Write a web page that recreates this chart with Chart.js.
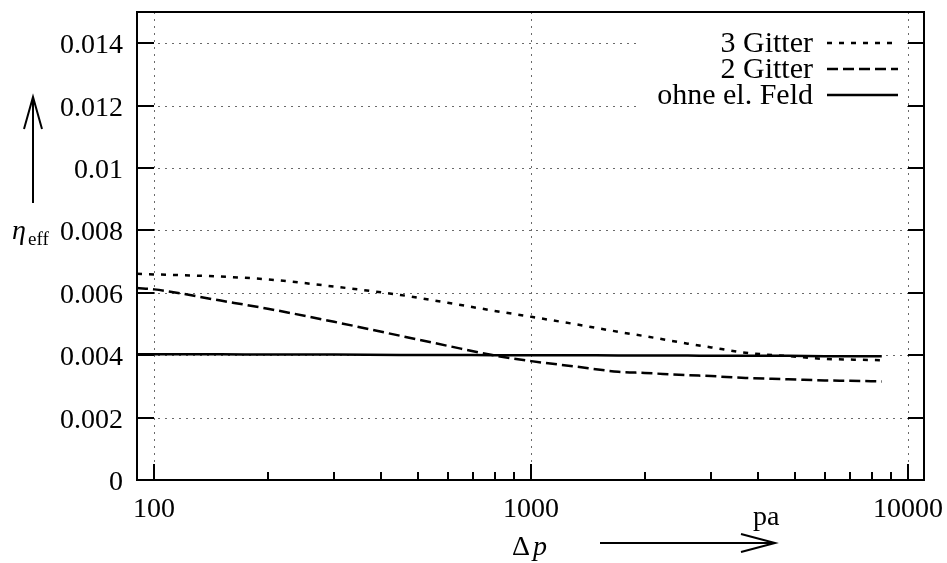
<!DOCTYPE html>
<html>
<head>
<meta charset="utf-8">
<script src="https://cdn.jsdelivr.net/npm/chart.js@4.4.0/dist/chart.umd.min.js"></script>
<style>
  html, body { margin: 0; padding: 0; background: #fff; }
</style>
</head>
<body>
<canvas id="graph" width="947" height="563"></canvas>
<script>
// Données (Δp en pa, η_eff)
const pressure = [90, 100, 150, 200, 300, 450, 600, 800, 1000, 1300, 1700, 2000, 2600, 3000, 3700, 4800, 6000, 7000, 8500];
const gitter3  = [0.00661, 0.00659, 0.00652, 0.00643, 0.00620, 0.00593, 0.00568, 0.00542, 0.00523, 0.00500, 0.00475, 0.00461, 0.00437, 0.00425, 0.00408, 0.00397, 0.00388, 0.00386, 0.00384];
const gitter2  = [0.00615, 0.00611, 0.00575, 0.00549, 0.00507, 0.00462, 0.00430, 0.00399, 0.00381, 0.00364, 0.00347, 0.00343, 0.00336, 0.00333, 0.00327, 0.00323, 0.00319, 0.00318, 0.00316];
const ohneFeld = [0.00403, 0.00403, 0.00403, 0.00402, 0.00402, 0.00401, 0.00401, 0.00400, 0.00400, 0.00400, 0.00399, 0.00399, 0.00399, 0.00398, 0.00398, 0.00398, 0.00397, 0.00397, 0.00397];
const seriesNames = ['3 Gitter', '2 Gitter', 'ohne el. Feld'];

const xTicks = [100, 1000, 10000];
const xTickLabels = ['100', '1000', '10000'];
const xMinorTicks = [200, 300, 400, 500, 600, 700, 800, 900, 2000, 3000, 4000, 5000, 6000, 7000, 8000, 9000];
const yTicks = [0, 0.002, 0.004, 0.006, 0.008, 0.01, 0.012, 0.014];
const yTickLabels = ['0', '0.002', '0.004', '0.006', '0.008', '0.01', '0.012', '0.014'];

const FONT = "'Liberation Serif', 'Times New Roman', serif";

function pts(vals) {
    return pressure.map((p, i) => ({ x: p, y: vals[i] }));
}

// Grille, graduations intérieures, cadre, légende et titres des axes
const decoPlugin = {
    id: 'deco',
    beforeDatasetsDraw(chart) {
        const { ctx, chartArea: a, scales: { x, y } } = chart;
        ctx.save();
        ctx.strokeStyle = '#6a6a6a';
        ctx.lineWidth = 1;
        ctx.setLineDash([2, 5]);
        xTicks.forEach(v => {
            const px = Math.round(x.getPixelForValue(v)) + 0.5;
            ctx.beginPath(); ctx.moveTo(px, a.top); ctx.lineTo(px, a.bottom); ctx.stroke();
        });
        yTicks.slice(1).forEach(v => {
            const py = Math.round(y.getPixelForValue(v)) + 0.5;
            ctx.beginPath(); ctx.moveTo(a.left, py); ctx.lineTo(a.right, py); ctx.stroke();
        });
        ctx.restore();
    },
    afterDatasetsDraw(chart) {
        const { ctx, chartArea: a, scales: { x, y } } = chart;
        ctx.save();
        ctx.strokeStyle = '#000';
        ctx.fillStyle = '#000';
        ctx.lineWidth = 2;
        ctx.setLineDash([]);
        // graduations et étiquettes
        ctx.font = '28px ' + FONT;
        ctx.textAlign = 'right';
        ctx.textBaseline = 'alphabetic';
        yTicks.forEach((v, i) => {
            const py = Math.round(y.getPixelForValue(v));
            ctx.beginPath(); ctx.moveTo(a.left, py); ctx.lineTo(a.left + 17, py); ctx.stroke();
            ctx.beginPath(); ctx.moveTo(a.right, py); ctx.lineTo(a.right - 16, py); ctx.stroke();
            ctx.fillText(yTickLabels[i], 123, py + 10);
        });
        ctx.textAlign = 'center';
        xTicks.forEach((v, i) => {
            const px = Math.round(x.getPixelForValue(v));
            ctx.beginPath(); ctx.moveTo(px, a.bottom); ctx.lineTo(px, a.bottom - 16); ctx.stroke();
            ctx.fillText(xTickLabels[i], px, 517);
        });
        xMinorTicks.forEach(v => {
            const px = Math.round(x.getPixelForValue(v));
            ctx.beginPath(); ctx.moveTo(px, a.bottom); ctx.lineTo(px, a.bottom - 8); ctx.stroke();
        });
        // légende
        ctx.fillStyle = '#fff';
        ctx.fillRect(637, 29, 269, 79);
        ctx.fillStyle = '#000';
        ctx.font = '30px ' + FONT;
        ctx.textAlign = 'right';
        const rows = [43, 69, 95];
        chart.data.datasets.forEach((ds, i) => {
            ctx.fillText(ds.label, 813, rows[i] + 9);
            ctx.lineWidth = ds.borderWidth;
            ctx.setLineDash(ds.borderDash || []);
            ctx.beginPath(); ctx.moveTo(827, rows[i]); ctx.lineTo(898, rows[i]); ctx.stroke();
        });
        ctx.setLineDash([]);
        // cadre
        ctx.lineWidth = 2;
        ctx.strokeRect(a.left, a.top, a.right - a.left, a.bottom - a.top);
        ctx.restore();
    },
    afterDraw(chart) {
        const { ctx } = chart;
        ctx.save();
        ctx.fillStyle = '#000';
        ctx.strokeStyle = '#000';
        ctx.lineWidth = 2;
        ctx.textBaseline = 'alphabetic';
        ctx.textAlign = 'left';
        // η_eff
        ctx.font = 'italic 28px ' + FONT;
        ctx.fillText('η', 12, 239);
        ctx.font = '19px ' + FONT;
        ctx.fillText('eff', 28, 245);
        // flèche verticale
        ctx.beginPath(); ctx.moveTo(33, 203); ctx.lineTo(33, 98); ctx.stroke();
        ctx.beginPath(); ctx.moveTo(24, 129); ctx.lineTo(33, 97); ctx.lineTo(42, 129); ctx.stroke();
        // Δp
        ctx.font = '28px ' + FONT;
        ctx.fillText('Δ', 512, 555);
        ctx.font = 'italic 28px ' + FONT;
        ctx.fillText('p', 533, 555);
        // pa
        ctx.font = '28px ' + FONT;
        ctx.fillText('pa', 753, 525);
        // flèche horizontale
        ctx.beginPath(); ctx.moveTo(600, 543); ctx.lineTo(774, 543); ctx.stroke();
        ctx.beginPath(); ctx.moveTo(741, 534); ctx.lineTo(775, 543); ctx.lineTo(741, 552); ctx.stroke();
        ctx.restore();
    }
};

const ctx = document.getElementById('graph').getContext('2d');
new Chart(ctx, {
    type: 'line',
    data: {
        datasets: [
            { label: seriesNames[0], data: pts(gitter3),  borderColor: '#000', borderWidth: 2.5, borderDash: [5, 7] },
            { label: seriesNames[1], data: pts(gitter2),  borderColor: '#000', borderWidth: 2.5, borderDash: [11, 5] },
            { label: seriesNames[2], data: pts(ohneFeld), borderColor: '#000', borderWidth: 2.5 }
        ]
    },
    options: {
        responsive: false,
        animation: false,
        layout: { padding: { top: 12, right: 23, left: 0, bottom: 0 } },
        elements: { point: { radius: 0 }, line: { tension: 0.4, cubicInterpolationMode: 'monotone' } },
        plugins: { legend: { display: false }, tooltip: { enabled: false } },
        scales: {
            x: {
                type: 'logarithmic',
                min: 90,
                max: 11000,
                afterBuildTicks: s => { s.ticks = xTicks.map(v => ({ value: v })); },
                afterFit: s => { s.height = 83; },
                grid: { display: false, drawTicks: false },
                border: { display: false },
                ticks: { display: false }
            },
            y: {
                min: 0,
                max: 0.015,
                afterBuildTicks: s => { s.ticks = yTicks.map(v => ({ value: v })); },
                afterFit: s => { s.width = 137; },
                grid: { display: false, drawTicks: false },
                border: { display: false },
                ticks: { display: false }
            }
        }
    },
    plugins: [decoPlugin]
});
</script>
</body>
</html>
